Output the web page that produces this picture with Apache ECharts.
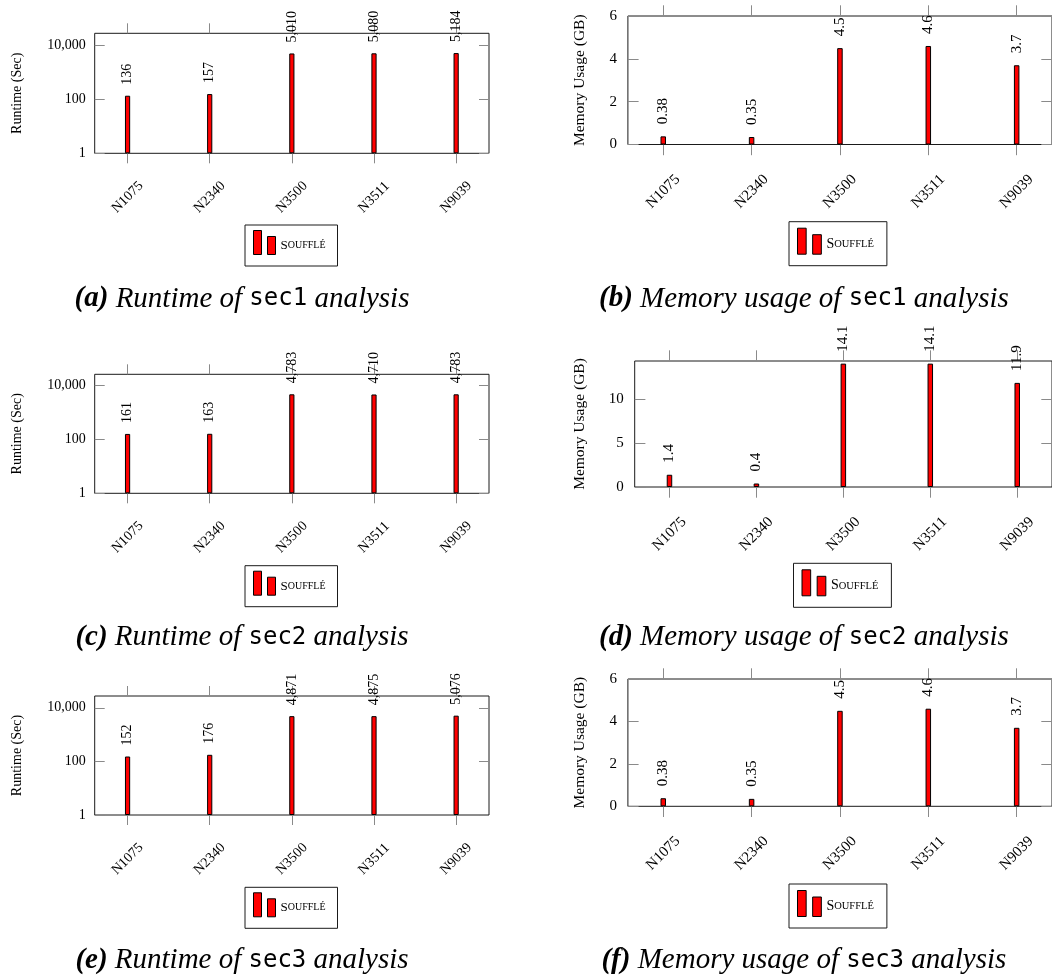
<!DOCTYPE html>
<html><head><meta charset="utf-8">
<script src="https://cdn.jsdelivr.net/npm/echarts@6/dist/echarts.min.js"></script>
<style>html,body{margin:0;padding:0;background:#fff}#c{width:1052px;height:979px}</style>
</head><body><div id="c"></div><script>
// ---- data ----
const categories = ['N1075', 'N2340', 'N3500', 'N3511', 'N9039'];
const runtimeSec1 = [136, 157, 5010, 5080, 5184];
const runtimeSec2 = [161, 163, 4783, 4710, 4783];
const runtimeSec3 = [152, 176, 4871, 4875, 5076];
const memorySec1 = [0.38, 0.35, 4.5, 4.6, 3.7];
const memorySec2 = [1.4, 0.4, 14.1, 14.1, 11.9];
const memorySec3 = [0.38, 0.35, 4.5, 4.6, 3.7];
const runtimeTicks = [1, 100, 10000];
const memoryTicksA = [0, 2, 4, 6];
const memoryTicksB = [0, 5, 10];
const seriesName = 'Soufflé';
const runtimeName = 'Runtime (Sec)';
const memoryName = 'Memory Usage (GB)';

// ---- layout ----
const SERIF = 'Liberation Serif';
const panels = [
  {tag:'(a)', kind:'Runtime of', sec:'sec1', data:runtimeSec1, log:true, ticks:runtimeTicks, max:28000, name:runtimeName,
   g:{left:94.7, top:33.3, width:394.3, height:120}, fs:14, gap:70, lg:[245,225], cap:[242,285], right:false},
  {tag:'(b)', kind:'Memory usage of', sec:'sec1', data:memorySec1, log:false, ticks:memoryTicksA, max:6, name:memoryName,
   g:{left:627.9, top:16, width:424.1, height:128.5}, fs:15, gap:40, lg:[789,221.7], cap:[803.9,285], right:true},
  {tag:'(c)', kind:'Runtime of', sec:'sec2', data:runtimeSec2, log:true, ticks:runtimeTicks, max:26500, name:runtimeName,
   g:{left:94.7, top:374.3, width:394.3, height:119}, fs:14, gap:70, lg:[245,565.7], cap:[242,623.3], right:false},
  {tag:'(d)', kind:'Memory usage of', sec:'sec2', data:memorySec2, log:false, ticks:memoryTicksB, max:14.4, name:memoryName,
   g:{left:634.7, top:361, width:417.5, height:126}, fs:15, gap:46.7, lg:[793.5,563.3], cap:[803.9,623.3], right:true},
  {tag:'(e)', kind:'Runtime of', sec:'sec3', data:runtimeSec3, log:true, ticks:runtimeTicks, max:27500, name:runtimeName,
   g:{left:94.7, top:696, width:394.3, height:119}, fs:14, gap:70, lg:[245,887.3], cap:[242,946.7], right:false},
  {tag:'(f)', kind:'Memory usage of', sec:'sec3', data:memorySec3, log:false, ticks:memoryTicksA, max:6, name:memoryName,
   g:{left:627.9, top:679, width:424.1, height:127.3}, fs:15, gap:40, lg:[789,884], cap:[803.9,946.7], right:true}
];

const catIdx = categories.map((c, i) => i);
const TICK = '#8a8a8a';
const fmtNum = v => (v >= 1000 ? v.toLocaleString('en-US') : String(v));

const grid = [], xAxis = [], yAxis = [], series = [], legend = [], title = [];
panels.forEach((p, k) => {
  const s = p.right ? 1.07 : 1;
  grid.push(Object.assign({show:true, borderColor:'#1a1a1a', borderWidth:1, backgroundColor:'transparent', containLabel:false}, p.g));
  const xBase = {type:'value', gridIndex:k, min:-0.4, max:4.4, splitLine:{show:false}, axisLine:{show:false, onZero:false}};
  xAxis.push(Object.assign({}, xBase, {position:'bottom',
    axisTick:{show:true, inside:false, length:10*s, customValues:catIdx, lineStyle:{color:TICK}},
    axisLabel:{show:true, customValues:catIdx, formatter:v => categories[Math.round(v)], rotate:45, align:'center', verticalAlign:'middle',
      margin:p.right ? 47 : 44, fontFamily:SERIF, fontSize:p.fs, color:'#000'}}));
  xAxis.push(Object.assign({}, xBase, {position:'top',
    axisTick:{show:true, inside:false, length:10*s, customValues:catIdx, lineStyle:{color:TICK}},
    axisLabel:{show:false}}));
  const yBase = p.log ? {type:'log', logBase:10, min:1, max:p.max} : {type:'value', min:0, max:p.max};
  yAxis.push(Object.assign({gridIndex:k, position:'left', splitLine:{show:false}, axisLine:{show:false, onZero:false},
    axisTick:{show:true, inside:true, length:10*s, customValues:p.ticks, lineStyle:{color:TICK}},
    axisLabel:{show:true, customValues:p.ticks, formatter:v => fmtNum(v), margin:p.right ? 11 : 9, fontFamily:SERIF, fontSize:p.fs, color:'#000'},
    name:p.name, nameLocation:'middle', nameGap:p.gap, nameRotate:90,
    nameTextStyle:{fontFamily:SERIF, fontSize:p.right ? 15.5 : 14, color:'#000'}}, yBase));
  yAxis.push(Object.assign({gridIndex:k, position:'right', splitLine:{show:false}, axisLine:{show:false, onZero:false},
    axisTick:{show:true, inside:true, length:10*s, customValues:p.ticks, lineStyle:{color:TICK}},
    axisLabel:{show:false}}, yBase));
  series.push({type:'bar', name:seriesName, xAxisIndex:2*k, yAxisIndex:2*k, barWidth:p.right ? 5.5 : 5.2,
    data:p.data.map((v, i) => [i, v]),
    itemStyle:{color:'#ff0000', borderColor:'#000', borderWidth:1},
    label:{show:true, position:'top', rotate:90, align:'left', verticalAlign:'middle', distance:p.right ? 12 : 11,
      fontFamily:SERIF, fontSize:p.fs, color:'#000', formatter:q => fmtNum(q.value[1])}});
  legend.push({left:p.lg[0], top:p.lg[1], orient:'horizontal', data:[seriesName],
    padding:p.right ? [6, 13, 11, 8] : [5, 12, 11, 8],
    backgroundColor:'#fff', borderColor:'#1a1a1a', borderWidth:1, borderRadius:0,
    itemWidth:p.right ? 24 : 22, itemHeight:p.right ? 26 : 24, itemGap:5,
    icon:'path://M0,0H8V24H0Z M14,6H22V24H14Z',
    itemStyle:{color:'#ff0000', borderColor:'#000', borderWidth:1},
    formatter:() => '{a|S}{b|OUFFLÉ}',
    textStyle:{rich:{a:{fontFamily:SERIF, fontSize:p.right ? 14 : 13, color:'#000', padding:[6,0,0,0]},
                     b:{fontFamily:SERIF, fontSize:p.right ? 10.5 : 10, color:'#000', padding:[6,0,0,0]}}},
    selectedMode:false});
  title.push({left:p.cap[0], top:p.cap[1], textAlign:'center', padding:0,
    text:'{b|' + p.tag + '}{i| ' + p.kind + ' }{m|' + p.sec + '}{i| analysis}',
    textStyle:{fontFamily:SERIF, fontSize:29, fontWeight:'normal', rich:{
      b:{fontFamily:SERIF, fontStyle:'italic', fontWeight:'bold', fontSize:29, color:'#000', lineHeight:28},
      i:{fontFamily:SERIF, fontStyle:'italic', fontWeight:'normal', fontSize:29, color:'#000', lineHeight:28},
      m:{fontFamily:'DejaVu Sans Mono', fontWeight:'normal', fontSize:24, color:'#000', lineHeight:28}}}});
});

const chart = echarts.init(document.getElementById('c'), null, {renderer:'canvas'});
chart.setOption({animation:false, backgroundColor:'#fff', title, legend, grid, xAxis, yAxis, series});
</script></body></html>
